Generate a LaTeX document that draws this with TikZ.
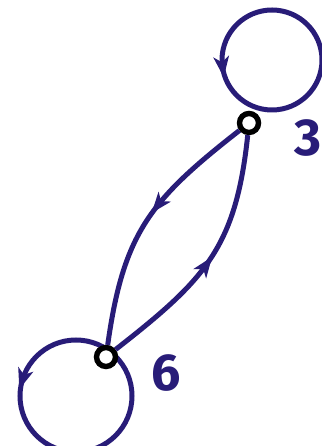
\documentclass[tikz,border=0pt]{standalone}
\usepackage{fontspec}
\setsansfont{Fira Sans}
\usetikzlibrary{arrows.meta,decorations.markings,calc}
\definecolor{navy}{RGB}{40,28,120}

\begin{document}
\begin{tikzpicture}[x=1pt, y=1pt,
  gv/.style={circle, draw=black, fill=white, line width=5.4pt, minimum size=19pt, inner sep=0pt},
  glabel/.style={text=navy, font={\sffamily\bfseries\fontsize{52}{52}\selectfont}, inner sep=0pt},
  gedge/.style={draw=navy, line width=5pt},
  markat/.style={postaction={decorate, decoration={markings,
      mark=at position #1 with {\fill[navy] (11,0) -- (-10,8) -- (-4,0) -- (-10,-8) -- cycle;}}}}
]
\useasboundingbox (0,0) rectangle (321,446);
% loops
\draw[gedge, markat=0.52] (272,386) circle[radius=50];
\draw[gedge, markat=0.45] (76,50) circle[radius=56];
% vertices
\node[gv] (n3) at (249,323) {};
\node[gv] (n6) at (106,89) {};
\draw[gedge, markat=0.42] (n3) to[out=218, in=82, looseness=1.15] (n6);
\draw[gedge, markat=0.47] (n6) to[out=38, in=264, looseness=1.15] (n3);
\node[glabel] (l3) at (308,308) {3};
\node[glabel] (l6) at (166,73) {6};
\end{tikzpicture}
\end{document}
